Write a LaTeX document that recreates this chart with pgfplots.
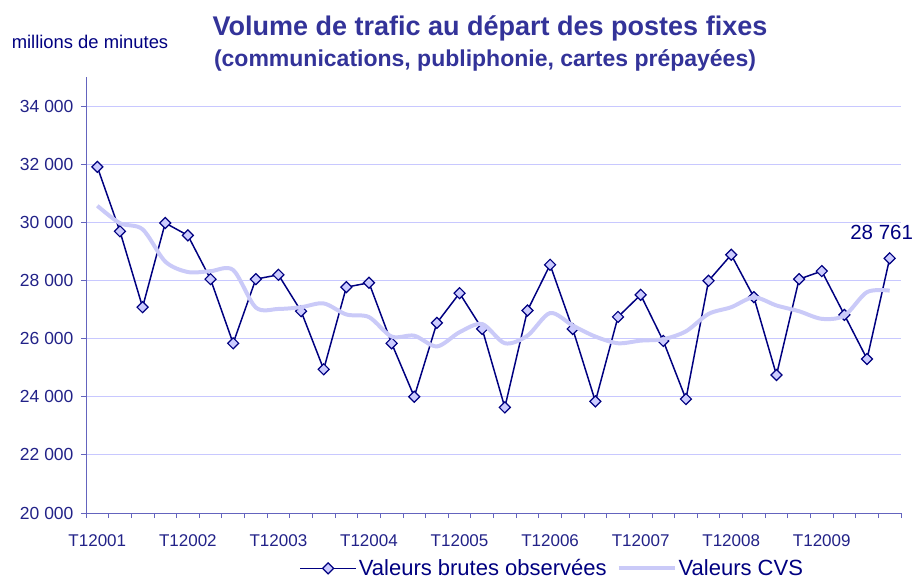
\documentclass[border=0pt]{standalone}
\usepackage{fontspec}
\setmainfont{Liberation Sans}
\usepackage{pgfplots}
\pgfplotsset{compat=1.18}
\definecolor{navy}{HTML}{000080}
\definecolor{mfill}{HTML}{CCCCFF}
\definecolor{cvs}{HTML}{CACAF8}
\definecolor{gridc}{HTML}{C8C8FF}
\definecolor{axc}{HTML}{6464BE}
\definecolor{titc}{HTML}{333399}
\definecolor{tickc}{HTML}{222288}
\begin{document}
\begin{tikzpicture}
\begin{axis}[
  at={(0,0)}, anchor=south west,
  scale only axis, width=815bp, height=436bp,
  xmin=-0.5, xmax=35.5, ymin=20000, ymax=35000,
  clip mode=individual,
  axis x line*=bottom, axis y line*=left,
  axis line style={axc, line width=0.8pt},
  scaled y ticks=false,
  ytick={20000,22000,...,34000},
  yticklabels={20 000,22 000,24 000,26 000,28 000,30 000,32 000,34 000},
  xtick={0,4,...,32},
  xticklabels={T12001,T12002,T12003,T12004,T12005,T12006,T12007,T12008,T12009},
  minor xtick={-0.5,0.5,...,35.5},
  tick align=outside,
  major tick length=5bp, minor tick length=5bp,
  major x tick style={draw=none},
  tick style={axc, line width=0.8pt},
  ymajorgrids, grid style={gridc, line width=0.8pt},
  tick label style={font=\fontsize{17bp}{20bp}\selectfont, text=tickc},
  y tick label style={xshift=-4bp, font=\fontsize{17.5bp}{20bp}\selectfont},
  x tick label style={yshift=-13bp},
  legend style={draw=none, fill=none, at={(0.572,-0.127)}, anchor=center,
    font=\fontsize{22bp}{25bp}\selectfont, text=navy,
    /tikz/every even column/.append style={column sep=8bp}},
  legend columns=2,
  legend image code/.code={\draw[mark repeat=2,mark phase=2,#1] plot coordinates {(0bp,0bp) (28bp,0bp) (56bp,0bp)};},
]
\addplot[navy, line width=1.5pt, mark=square*, mark size=3.9bp,
  mark options={rotate=45, fill=mfill, draw=navy, line width=1.2pt}]
  coordinates {
  (0,31908) (1,29690) (2,27080) (3,29977) (4,29550) (5,28046) (6,25839) (7,28046)
  (8,28195) (9,26943) (10,24943) (11,27770) (12,27920) (13,25839) (14,24000) (15,26540)
  (16,27563) (17,26333) (18,23632) (19,26966) (20,28540) (21,26333) (22,23839) (23,26747)
  (24,27506) (25,25920) (26,23920) (27,27990) (28,28885) (29,27425) (30,24747) (31,28046)
  (32,28322) (33,26816) (34,25299) (35,28761)};
\addlegendentry{Valeurs brutes observées}
\addplot[cvs, line width=4pt, smooth, tension=0.5, mark=none]
  coordinates {
  (0,30570) (1,29970) (2,29760) (3,28650) (4,28290) (5,28320) (6,28360) (7,27070)
  (8,27020) (9,27080) (10,27210) (11,26830) (12,26740) (13,26070) (14,26100) (15,25730)
  (16,26220) (17,26500) (18,25840) (19,26100) (20,26880) (21,26450) (22,26070) (23,25840)
  (24,25930) (25,25980) (26,26250) (27,26850) (28,27080) (29,27420) (30,27140) (31,26940)
  (32,26680) (33,26790) (34,27600) (35,27650)};
\addlegendentry{Valeurs CVS}
\node[font=\fontsize{20.5bp}{24bp}\selectfont, text=navy, xshift=-8bp, yshift=26bp]
  at (axis cs:35,28761) {28 761};
\end{axis}
\node[font=\fontsize{27bp}{30bp}\selectfont\bfseries, text=titc] at (404bp,485bp)
  {Volume de trafic au départ des postes fixes};
\node[font=\fontsize{23bp}{25bp}\selectfont\bfseries, text=titc] at (399bp,453bp)
  {(communications, publiphonie, cartes prépayées)};
\node[font=\fontsize{18.4bp}{20bp}\selectfont, text=navy] at (4bp,471bp)
  {millions de minutes};
\pgfresetboundingbox
\path[use as bounding box] (-86bp,-68bp) rectangle (829bp,513bp);
\end{tikzpicture}
\end{document}
